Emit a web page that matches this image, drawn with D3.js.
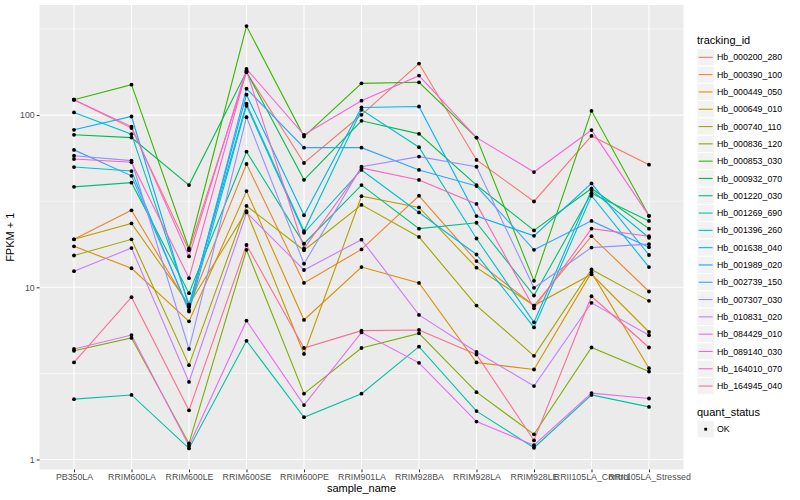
<!DOCTYPE html>
<html>
<head>
<meta charset="utf-8">
<script src="https://cdn.jsdelivr.net/npm/d3@7"></script>
<style>
  body { margin: 0; background: #fff; }
  text { font-family: "Liberation Sans", Arial, sans-serif; }
</style>
</head>
<body>
<svg id="chart" width="800" height="500"></svg>
<script>
const samples = ['PB350LA', 'RRIM600LA', 'RRIM600LE', 'RRIM600SE', 'RRIM600PE', 'RRIM901LA',
  'RRIM928BA', 'RRIM928LA', 'RRIM928LE', 'RRII105LA_Control', 'RRII105LA_Stressed'];

const trackingIds = ['Hb_000200_280', 'Hb_000390_100', 'Hb_000449_050', 'Hb_000649_010', 'Hb_000740_110',
  'Hb_000836_120', 'Hb_000853_030', 'Hb_000932_070', 'Hb_001220_030', 'Hb_001269_690', 'Hb_001396_260',
  'Hb_001638_040', 'Hb_001989_020', 'Hb_002739_150', 'Hb_007307_030', 'Hb_010831_020', 'Hb_084429_010',
  'Hb_089140_030', 'Hb_164010_070', 'Hb_164945_040'];

// FPKM + 1, one row per tracking_id, one value per sample
const fpkm = [
  [122.8, 84.0, 16.4, 177.2, 52.7, 100.4, 199.1, 54.9, 31.5, 75.7, 51.5],
  [19.0, 28.0, 7.73, 52.0, 10.6, 16.6, 34.0, 14.2, 7.83, 19.8, 9.45],
  [17.3, 12.9, 6.34, 36.2, 6.46, 13.1, 10.6, 3.66, 3.33, 12.2, 3.39],
  [19.0, 23.5, 7.94, 27.7, 4.10, 33.8, 29.1, 13.0, 7.83, 11.9, 5.50],
  [15.3, 19.0, 3.53, 29.7, 16.4, 30.1, 19.6, 7.83, 4.00, 12.7, 8.34],
  [4.28, 5.08, 1.24, 16.5, 2.41, 4.44, 5.40, 2.46, 1.40, 4.47, 3.24],
  [122.8, 150.2, 16.8, 328.6, 75.0, 152.9, 155.0, 74.0, 10.9, 105.9, 26.0],
  [76.8, 74.0, 39.2, 178.9, 42.1, 92.6, 77.8, 39.2, 21.4, 37.5, 21.9],
  [38.3, 40.5, 9.24, 61.3, 17.9, 39.2, 21.9, 23.7, 8.96, 35.2, 24.3],
  [2.24, 2.37, 1.16, 4.89, 1.76, 2.41, 4.52, 1.91, 1.17, 2.37, 2.02],
  [103.6, 77.5, 7.94, 116.4, 21.2, 107.4, 65.1, 19.2, 6.26, 36.7, 19.4],
  [49.9, 47.3, 7.23, 113.3, 20.7, 48.0, 27.2, 15.5, 5.85, 34.0, 13.1],
  [82.1, 98.1, 7.73, 131.3, 26.2, 110.7, 112.2, 25.9, 19.9, 40.1, 15.4],
  [62.8, 44.4, 7.39, 142.3, 64.7, 64.7, 48.0, 38.7, 16.5, 24.3, 17.1],
  [58.1, 54.4, 4.38, 97.3, 13.7, 50.1, 57.4, 50.1, 9.93, 17.0, 17.8],
  [12.4, 16.9, 2.82, 27.2, 12.6, 18.9, 6.91, 4.21, 2.67, 8.12, 5.26],
  [4.38, 5.28, 1.20, 6.40, 2.07, 5.47, 3.64, 1.66, 1.21, 2.43, 2.26],
  [122.8, 85.8, 15.1, 185.5, 76.8, 121.2, 169.5, 74.0, 46.7, 81.8, 26.0],
  [55.6, 53.2, 11.3, 181.3, 16.8, 49.3, 42.0, 30.5, 7.55, 21.9, 19.8],
  [3.66, 8.76, 1.93, 17.6, 4.44, 5.60, 5.65, 4.07, 1.29, 8.87, 4.47]
];

const yTicks = [1, 10, 100];
const statusLevels = ['OK'];

// ggplot default hue palette for 20 levels
const palette = ['#F8766D', '#EA8331', '#D89000', '#C09B00', '#A3A500', '#7CAE00', '#39B600', '#00BB4E',
  '#00BF7D', '#00C1A3', '#00BFC4', '#00BAE0', '#00B0F6', '#35A2FF', '#9590FF', '#C77CFF', '#E76BF3',
  '#FA62DB', '#FF62BC', '#FF6C91'];

const svg = d3.select('#chart');
const panel = { left: 39.5, right: 683.5, top: 5, bottom: 469.5 };

const x = d3.scalePoint().domain(samples).range([panel.left, panel.right]).padding(0.6);

const all = fpkm.flat();
const lo = Math.log10(d3.min(all)), hi = Math.log10(d3.max(all));
const pad = (hi - lo) * 0.05;
const y = d3.scaleLog().domain([10 ** (lo - pad), 10 ** (hi + pad)]).range([panel.bottom, panel.top]);
const color = d3.scaleOrdinal().domain(trackingIds).range(palette);

// panel background + grid
svg.append('rect')
  .attr('x', panel.left).attr('y', panel.top)
  .attr('width', panel.right - panel.left).attr('height', panel.bottom - panel.top)
  .attr('fill', '#EBEBEB');

const minor = yTicks.map(t => t * Math.sqrt(10)).concat([Math.sqrt(10) / 10])
  .filter(v => v >= y.domain()[0] && v <= y.domain()[1]);
svg.append('g').selectAll('line').data(minor).join('line')
  .attr('x1', panel.left).attr('x2', panel.right)
  .attr('y1', d => y(d)).attr('y2', d => y(d))
  .attr('stroke', '#fff').attr('stroke-width', 0.55);
svg.append('g').selectAll('line').data(yTicks).join('line')
  .attr('x1', panel.left).attr('x2', panel.right)
  .attr('y1', d => y(d)).attr('y2', d => y(d))
  .attr('stroke', '#fff').attr('stroke-width', 1.1);
svg.append('g').selectAll('line').data(samples).join('line')
  .attr('x1', d => x(d)).attr('x2', d => x(d))
  .attr('y1', panel.top).attr('y2', panel.bottom)
  .attr('stroke', '#fff').attr('stroke-width', 1.1);

// lines
const line = d3.line().x((d, i) => x(samples[i])).y(d => y(d));
svg.append('g').selectAll('path').data(fpkm).join('path')
  .attr('d', d => line(d))
  .attr('fill', 'none')
  .attr('stroke', (d, i) => color(trackingIds[i]))
  .attr('stroke-width', 1.1);

// points
const pts = fpkm.flatMap(row => row.map((v, i) => ({ s: samples[i], v })));
svg.append('g').selectAll('circle').data(pts).join('circle')
  .attr('cx', d => x(d.s)).attr('cy', d => y(d.v))
  .attr('r', 1.9)
  .attr('fill', '#000');

// axes
const xAxis = svg.append('g')
  .attr('transform', `translate(0,${panel.bottom})`)
  .call(d3.axisBottom(x).tickSize(2.75).tickPadding(2));
const yAxis = svg.append('g')
  .attr('transform', `translate(${panel.left},0)`)
  .call(d3.axisLeft(y).tickValues(yTicks).tickFormat(d3.format('d')).tickSize(2.75).tickPadding(2));
[xAxis, yAxis].forEach(g => {
  g.select('.domain').remove();
  g.selectAll('line').attr('stroke', '#333').attr('stroke-width', 1.05);
  g.selectAll('text').attr('fill', '#4D4D4D').attr('font-size', 8.8)
    .attr('font-family', '"Liberation Sans", Arial, sans-serif');
});

svg.append('text')
  .attr('x', (panel.left + panel.right) / 2).attr('y', 492)
  .attr('text-anchor', 'middle').attr('font-size', 11).attr('fill', '#000')
  .text('sample_name');
svg.append('text')
  .attr('transform', `translate(14,${(panel.top + panel.bottom) / 2}) rotate(-90)`)
  .attr('text-anchor', 'middle').attr('font-size', 11).attr('fill', '#000')
  .text('FPKM + 1');

// legend: tracking_id
const lx = 697, keyH = 17.3, firstKey = 48.7;
const legend = svg.append('g');
legend.append('text').attr('x', lx).attr('y', 43.5).attr('font-size', 11).text('tracking_id');
const items = legend.selectAll('g.item').data(trackingIds).join('g')
  .attr('class', 'item')
  .attr('transform', (d, i) => `translate(${lx},${firstKey + i * keyH})`);
items.append('rect').attr('width', 17.3).attr('height', 17.3)
  .attr('fill', '#F2F2F2').attr('stroke', '#fff').attr('stroke-width', 1);
items.append('line').attr('x1', 1.7).attr('x2', 15.6).attr('y1', 8.65).attr('y2', 8.65)
  .attr('stroke', d => color(d)).attr('stroke-width', 1.1);
items.append('text').attr('x', 20).attr('y', 11.8).attr('font-size', 8.8).attr('fill', '#000')
  .text(d => d);

// legend: quant_status
const qy = 420.5;
legend.append('text').attr('x', lx).attr('y', 416).attr('font-size', 11).text('quant_status');
const q = legend.selectAll('g.q').data(statusLevels).join('g')
  .attr('class', 'q').attr('transform', (d, i) => `translate(${lx},${qy + i * keyH})`);
q.append('rect').attr('width', 17.3).attr('height', 17.3)
  .attr('fill', '#F2F2F2').attr('stroke', '#fff').attr('stroke-width', 1);
q.append('rect').attr('x', 7.3).attr('y', 7.3).attr('width', 2.8).attr('height', 2.8).attr('fill', '#000');
q.append('text').attr('x', 20).attr('y', 11.8).attr('font-size', 8.8).attr('fill', '#000').text(d => d);
</script>
</body>
</html>
